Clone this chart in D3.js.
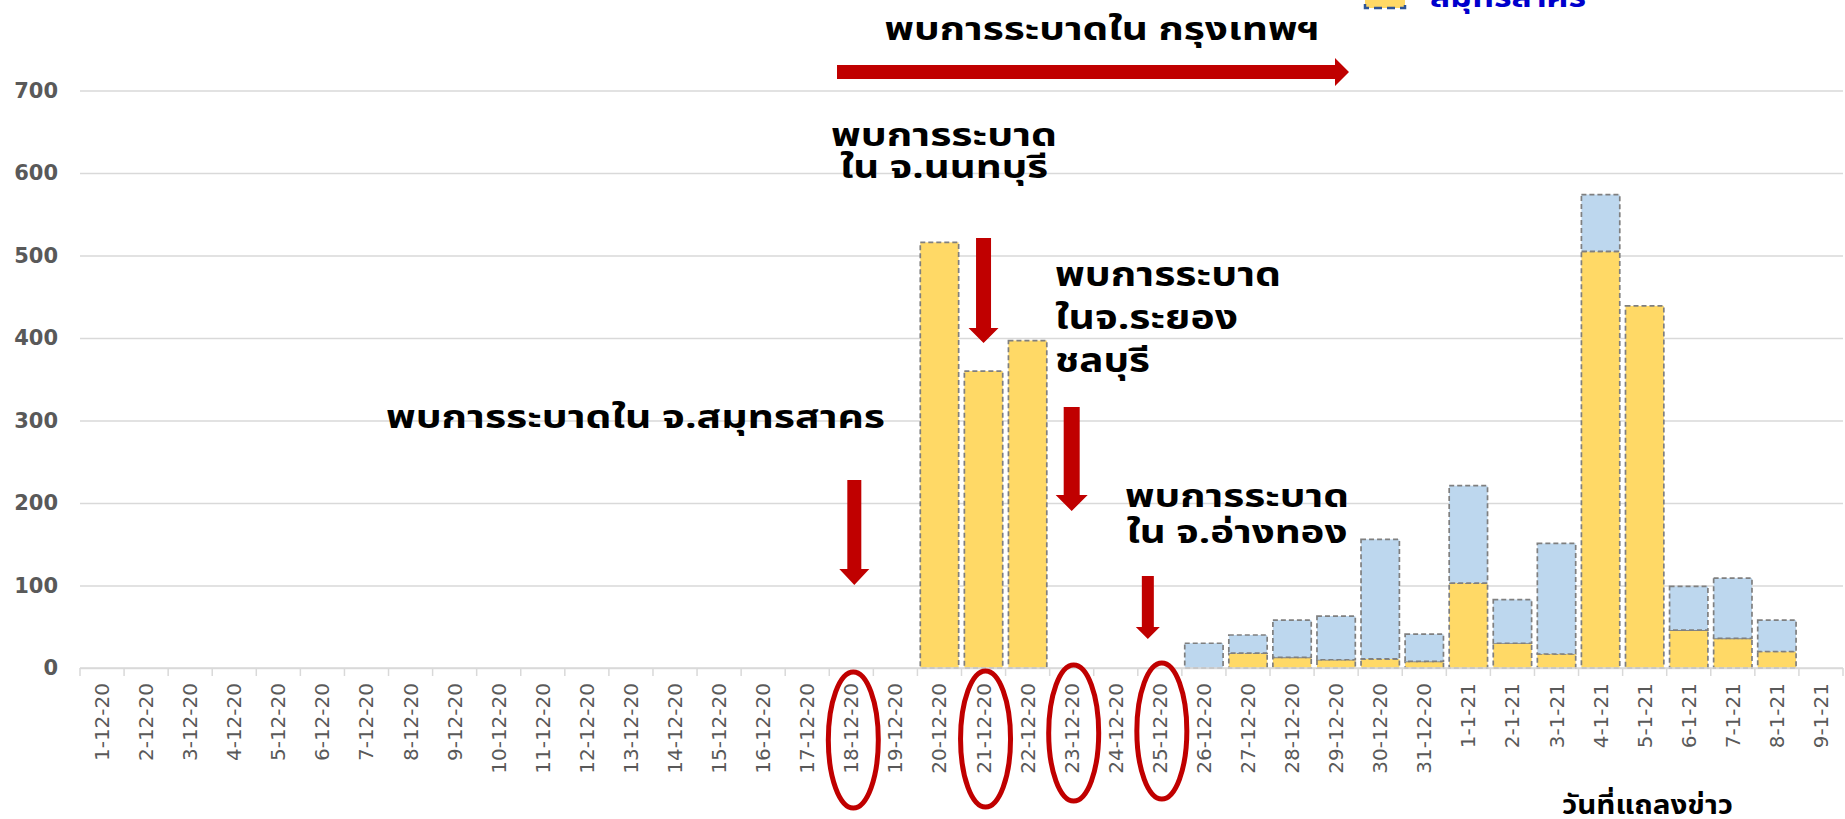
<!DOCTYPE html>
<html>
<head>
<meta charset="utf-8">
<script src="https://cdn.jsdelivr.net/npm/d3@7"></script>
<style>
  body { margin: 0; background: #fff; }
  svg { display: block; font-family: "Noto Sans Thai", "Noto Sans", "DejaVu Sans", sans-serif; }
</style>
</head>
<body>
<div id="chart"></div>
<script>
// Dates of the press briefings (x categories)
const dates = [
  '1-12-20', '2-12-20', '3-12-20', '4-12-20', '5-12-20', '6-12-20', '7-12-20',
  '8-12-20', '9-12-20', '10-12-20', '11-12-20', '12-12-20', '13-12-20', '14-12-20',
  '15-12-20', '16-12-20', '17-12-20', '18-12-20', '19-12-20', '20-12-20', '21-12-20',
  '22-12-20', '23-12-20', '24-12-20', '25-12-20', '26-12-20', '27-12-20', '28-12-20',
  '29-12-20', '30-12-20', '31-12-20', '1-1-21', '2-1-21', '3-1-21', '4-1-21',
  '5-1-21', '6-1-21', '7-1-21', '8-1-21', '9-1-21',
];

// Cases in Samut Sakhon (yellow)
const samutSakhon = [
  0, 0, 0, 0, 0, 0, 0, 0, 0, 0, 0, 0, 0, 0, 0, 0, 0, 0, 0,
  516, 360, 397, 0, 0, 0, 0, 18, 13, 10, 11, 8,
  103, 30, 17, 505, 439, 46, 36, 20, 0,
];

// Cases elsewhere (light blue)
const otherProvinces = [
  0, 0, 0, 0, 0, 0, 0, 0, 0, 0, 0, 0, 0, 0, 0, 0, 0, 0, 0,
  0, 0, 0, 0, 0, 0, 30, 22, 45, 53, 145, 33,
  118, 53, 134, 69, 0, 53, 73, 38, 0,
];

const yTicks = [0, 100, 200, 300, 400, 500, 600, 700];
const seriesKeys = ['samutSakhon', 'other'];
const seriesColors = { samutSakhon: '#ffd966', other: '#bdd7ee' };

// Annotations: lines of text, widths to match the original face
const notes = [
  { lines: ['พบการระบาดใน กรุงเทพฯ'], widths: [435], x: 1102, y: 40, anchor: 'middle', size: 32 },
  { lines: ['พบการระบาด', 'ใน จ.นนทบุรี'], widths: [226, 208], x: 944, y: 146, anchor: 'middle', size: 32, lh: 32 },
  { lines: ['พบการระบาด', 'ในจ.ระยอง', 'ชลบุรี'], widths: [226, 183, 95], x: 1055, y: 286, anchor: 'start', size: 33, lh: 43 },
  { lines: ['พบการระบาดใน จ.สมุทรสาคร'], widths: [499], x: 885, y: 428, anchor: 'end', size: 32 },
  { lines: ['พบการระบาด', 'ใน จ.อ่างทอง'], widths: [224, 221], x: 1237, y: 507, anchor: 'middle', size: 31, lh: 36 },
];

// Down arrows point at (or near) the date they refer to
const downArrows = [
  { date: '18-12-20', dx: 3, top: 480, tip: 585, shaft: 14, head: 30, headLen: 16 },
  { date: '21-12-20', dx: 0, top: 238, tip: 343, shaft: 15, head: 30, headLen: 15 },
  { date: '23-12-20', dx: 0, top: 407, tip: 511, shaft: 16, head: 32, headLen: 16 },
  { date: '25-12-20', dx: -12, top: 576, tip: 639, shaft: 12, head: 24, headLen: 12 },
];

const circled = [
  { date: '18-12-20', cy: 740 },
  { date: '21-12-20', cy: 739 },
  { date: '23-12-20', cy: 733 },
  { date: '25-12-20', cy: 731 },
];

const width = 1845;
const height = 819;
const plot = { left: 80, right: 1843, top: 90.6, bottom: 668 };
const red = '#c00000';

const table = dates.map((d, i) => ({
  date: d, samutSakhon: samutSakhon[i], other: otherProvinces[i],
}));

const svg = d3.select('#chart').append('svg')
    .attr('width', width)
    .attr('height', height);

const x = d3.scaleBand()
    .domain(dates)
    .range([plot.left, plot.right])
    .paddingInner(0.13)
    .paddingOuter(0.065);

const xEdge = d3.scaleBand()
    .domain(dates)
    .range([plot.left, plot.right]);

const y = d3.scaleLinear()
    .domain([0, 700])
    .range([plot.bottom, plot.top]);

const mid = d => xEdge(d) + xEdge.bandwidth() / 2;

// Gridlines + y labels
const yAxis = svg.append('g')
    .attr('transform', `translate(${plot.left},0)`)
    .call(d3.axisLeft(y).tickValues(yTicks).tickSize(-(plot.right - plot.left)).tickPadding(22));
yAxis.select('.domain').remove();
yAxis.selectAll('.tick line')
    .attr('stroke', '#d9d9d9')
    .attr('stroke-width', 1.5);
yAxis.selectAll('.tick text')
    .attr('fill', '#595959')
    .style('font-family', '"DejaVu Sans", sans-serif')
    .style('font-size', '21px')
    .style('font-weight', 'bold');

// Stacked bars
const stack = d3.stack().keys(seriesKeys);
svg.append('g')
  .selectAll('g')
    .data(stack(table))
  .enter().append('g')
    .attr('fill', d => seriesColors[d.key])
  .selectAll('rect')
    .data(d => d.filter(s => s[1] - s[0] > 0))
  .enter().append('rect')
    .attr('x', d => x(d.data.date))
    .attr('width', x.bandwidth())
    .attr('y', d => y(d[1]))
    .attr('height', d => y(d[0]) - y(d[1]))
    .attr('stroke', '#7f7f7f')
    .attr('stroke-width', 1.7)
    .attr('stroke-dasharray', '5,3');

// X axis with ticks at band edges
const xg = svg.append('g');
xg.append('line')
    .attr('x1', plot.left).attr('x2', plot.right)
    .attr('y1', plot.bottom).attr('y2', plot.bottom)
    .attr('stroke', '#d9d9d9')
    .attr('stroke-width', 1.5);
xg.selectAll('.edge')
    .data(dates.concat(['end']))
  .enter().append('line')
    .attr('class', 'edge')
    .attr('x1', (d, i) => plot.left + i * xEdge.step())
    .attr('x2', (d, i) => plot.left + i * xEdge.step())
    .attr('y1', plot.bottom)
    .attr('y2', plot.bottom + 8)
    .attr('stroke', '#d9d9d9')
    .attr('stroke-width', 1.5);
xg.selectAll('.lbl')
    .data(dates)
  .enter().append('text')
    .attr('class', 'lbl')
    .attr('transform', d => `translate(${mid(d) + 7},683) rotate(-90)`)
    .attr('text-anchor', 'end')
    .attr('fill', '#595959')
    .style('font-family', '"DejaVu Sans", sans-serif')
    .style('font-size', '20px')
    .text(d => d);

// Red ellipses round key dates
svg.append('g')
  .selectAll('ellipse')
    .data(circled)
  .enter().append('ellipse')
    .attr('cx', d => mid(d.date) + 2)
    .attr('cy', d => d.cy)
    .attr('rx', 25)
    .attr('ry', 68)
    .attr('fill', 'none')
    .attr('stroke', red)
    .attr('stroke-width', 5);

// Down arrows
svg.append('g')
  .selectAll('path')
    .data(downArrows)
  .enter().append('path')
    .attr('fill', red)
    .attr('d', (d) => {
      const cx = mid(d.date) + d.dx;
      const s = d.shaft / 2;
      const h = d.head / 2;
      const hy = d.tip - d.headLen;
      return `M${cx - s},${d.top}H${cx + s}V${hy}H${cx + h}L${cx},${d.tip}L${cx - h},${hy}H${cx - s}Z`;
    });

// Horizontal arrow under the Bangkok note
svg.append('path')
    .attr('fill', red)
    .attr('d', 'M837,65H1335V58L1349,72L1335,86V79H837Z');

// Annotation texts
notes.forEach((n) => {
  const t = svg.append('text')
      .attr('x', n.x)
      .attr('y', n.y)
      .attr('text-anchor', n.anchor)
      .attr('fill', '#000')
      .style('font-size', `${n.size}px`)
      .style('font-weight', 'bold');
  n.lines.forEach((line, i) => {
    t.append('tspan')
        .attr('x', n.x)
        .attr('dy', i === 0 ? 0 : n.lh)
        .attr('textLength', n.widths[i])
        .attr('lengthAdjust', 'spacingAndGlyphs')
        .text(line);
  });
});

// Legend (only its lower entry shows at the top edge)
const legend = svg.append('g');
legend.append('rect')
    .attr('x', 1365)
    .attr('y', -20)
    .attr('width', 40)
    .attr('height', 28)
    .attr('fill', seriesColors.samutSakhon)
    .attr('stroke', '#2f5597')
    .attr('stroke-width', 2.5)
    .attr('stroke-dasharray', '8,5');
legend.append('text')
    .attr('x', 1430)
    .attr('y', 7)
    .attr('fill', '#0000cc')
    .attr('textLength', 156)
    .attr('lengthAdjust', 'spacingAndGlyphs')
    .style('font-size', '28px')
    .style('font-weight', 'bold')
    .text('สมุทรสาคร');

// Axis title
svg.append('text')
    .attr('x', 1562)
    .attr('y', 814)
    .attr('fill', '#000')
    .attr('textLength', 171)
    .attr('lengthAdjust', 'spacingAndGlyphs')
    .style('font-size', '26px')
    .style('font-weight', 'bold')
    .text('วันที่แถลงข่าว');
</script>
</body>
</html>
